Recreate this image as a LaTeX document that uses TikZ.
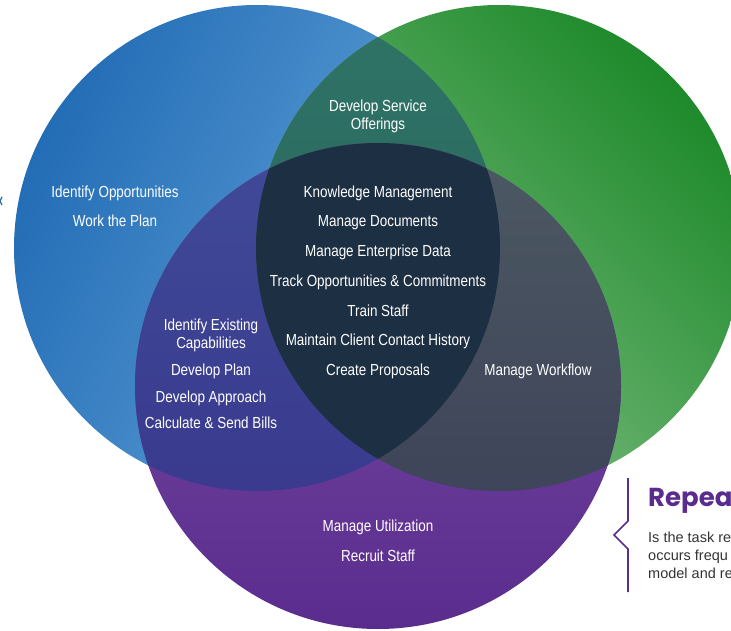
\documentclass[tikz,border=0pt]{standalone}
\usepackage{fontspec}
\setmainfont{Liberation Sans}
\newfontfamily\vennfont{Liberation Sans}[FakeStretch=0.84]
\newfontfamily\headfont{Poppins}
\definecolor{bluedark}{HTML}{236DB6}
\definecolor{bluelight}{HTML}{6AA9DC}
\definecolor{greendark}{HTML}{1E8A2B}
\definecolor{greenlight}{HTML}{86C189}
\definecolor{purplelight}{HTML}{7D52A6}
\definecolor{purpledark}{HTML}{5A2C8E}
\definecolor{bgtop}{HTML}{2F7466}
\definecolor{bgbot}{HTML}{27605C}
\definecolor{bptop}{HTML}{404A98}
\definecolor{bpbot}{HTML}{37348A}
\definecolor{gptop}{HTML}{4C5962}
\definecolor{gpbot}{HTML}{393C56}
\definecolor{core}{HTML}{1D2F42}
\definecolor{textgray}{HTML}{333333}
\begin{document}
\begin{tikzpicture}[x=1pt,y=-1pt,
    task/.style={text=white,font=\vennfont\fontsize{16}{18}\selectfont,align=center,inner sep=0pt,anchor=base},
    note/.style={text=textgray,font=\fontsize{14.5}{18}\selectfont,anchor=base west,inner sep=0pt}]
  \useasboundingbox (0,0) rectangle (731,631);
  \clip (0,0) rectangle (731,631);
  \coordinate (b) at (257,248);
  \coordinate (g) at (499,248);
  \coordinate (p) at (378,386);
  \shade[top color=bluedark,bottom color=bluelight,shading angle=65] (b) circle[radius=243];
  \shade[top color=greendark,bottom color=greenlight,shading angle=-45] (g) circle[radius=243];
  \shade[top color=purplelight,bottom color=purpledark] (p) circle[radius=243];
  \begin{scope}
    \clip (b) circle[radius=243];
    \shade[top color=bgtop,bottom color=bgbot] (g) circle[radius=243];
    \shade[top color=bptop,bottom color=bpbot] (p) circle[radius=243];
  \end{scope}
  \begin{scope}
    \clip (g) circle[radius=243];
    \shade[top color=gptop,bottom color=gpbot] (p) circle[radius=243];
    \clip (b) circle[radius=243];
    \fill[core] (p) circle[radius=243];
  \end{scope}
  \node[task,anchor=center] (dso) at (378,116) {Develop Service\\Offerings};
  \node[task] (km) at (378,198) {Knowledge Management};
  \node[task] (md) at (378,227) {Manage Documents};
  \node[task] (med) at (378,257) {Manage Enterprise Data};
  \node[task] (toc) at (378,286) {Track Opportunities \& Commitments};
  \node[task] (ts) at (378,316) {Train Staff};
  \node[task] (mcch) at (378,345) {Maintain Client Contact History};
  \node[task] (cp) at (378,375) {Create Proposals};
  \node[task] (io) at (115,198) {Identify Opportunities};
  \node[task] (wtp) at (115,227) {Work the Plan};
  \node[task,anchor=center] (iec) at (211,335) {Identify Existing\\Capabilities};
  \node[task] (dp) at (211,375) {Develop Plan};
  \node[task] (da) at (211,402) {Develop Approach};
  \node[task] (csb) at (211,428) {Calculate \& Send Bills};
  \node[task] (mw) at (538,375) {Manage Workflow};
  \node[task] (mu) at (378,531) {Manage Utilization};
  \node[task] (rs) at (378,561) {Recruit Staff};
  \draw[bluedark,line width=1.2pt] (2,197) -- (0,201) -- (2,205);
  \draw[purpledark,line width=1.6pt] (628,478) -- (628,521) -- (614,535) -- (628,549) -- (628,592);
  \node[anchor=base west,inner sep=0pt,text=purpledark,font=\headfont\bfseries\fontsize{26}{30}\selectfont] (rep) at (648,506) {Repea};
  \node[note] (n1) at (648,542) {Is the task re};
  \node[note] (n2) at (648,560) {occurs frequ};
  \node[note] (n3) at (648,578) {model and re};
\end{tikzpicture}
\end{document}
